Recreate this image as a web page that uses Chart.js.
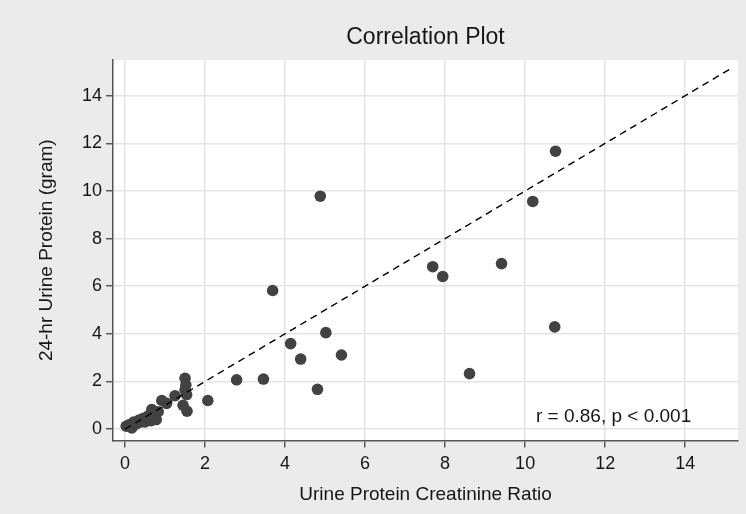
<!DOCTYPE html>
<html>
<head>
<meta charset="utf-8">
<script src="https://cdn.jsdelivr.net/npm/chart.js@4/dist/chart.umd.min.js"></script>
<style>
html,body{margin:0;padding:0;background:#ebebeb;}
canvas{display:block;}
</style>
</head>
<body>
<canvas id="c" width="746" height="514"></canvas>
<script>
// Data
const upcr = [4.88,10.19,10.76,3.69,7.69,7.94,9.41,5.02,4.14,4.39,5.41,2.79,3.46,4.81,8.61,10.74,2.07,
  1.50,1.52,1.50,1.54,1.25,1.45,1.55,1.04,0.92,0.83,0.67,0.78,0.58,0.46,0.35,0.22,0.10,0.17,0.03,0.28,0.50,0.65,0.40];
const urine24 = [9.78,9.56,11.67,5.82,6.82,6.41,6.95,4.05,3.59,2.94,3.11,2.07,2.10,1.67,2.33,4.29,1.20,
  2.13,1.85,1.64,1.45,1.40,1.00,0.75,1.08,1.20,0.73,0.82,0.40,0.55,0.45,0.38,0.30,0.18,0.05,0.12,0.22,0.30,0.35,0.30];
const refLine = [0, 15.2];
const xTicks = [0,2,4,6,8,10,12,14];
const yTicks = [0,2,4,6,8,10,12,14];
const titleText = "Correlation Plot";
const xTitle = "Urine Protein Creatinine Ratio";
const yTitle = "24-hr Urine Protein (gram)";
const annText = "r = 0.86, p < 0.001";
const annPos = [10.27, 0.31];

const FONT = "'Liberation Sans', Arial, Helvetica, sans-serif";

const points = upcr.map((v,i)=>({x:v, y:urine24[i]}));
const linePts = refLine.map(v=>({x:v, y:v}));

const textPlugin = {
  id: 'texts',
  beforeDraw(chart){
    const {ctx, chartArea:a} = chart;
    ctx.save();
    ctx.fillStyle = '#ffffff';
    ctx.fillRect(a.left, a.top, a.right-a.left, a.bottom-a.top);
    ctx.restore();
  },
  afterDraw(chart){
    const {ctx, chartArea:a, scales} = chart;
    ctx.save();
    ctx.fillStyle = '#161616';
    ctx.textAlign = 'center';
    ctx.textBaseline = 'middle';
    ctx.font = "23px " + FONT;
    ctx.fillText(titleText, (a.left+a.right)/2, 38);
    ctx.font = "19px " + FONT;
    ctx.fillText(xTitle, (a.left+a.right)/2, 495);
    ctx.save();
    ctx.translate(47, (a.top+a.bottom)/2);
    ctx.rotate(-Math.PI/2);
    ctx.fillText(yTitle, 0, 0);
    ctx.restore();
    ctx.textAlign = 'left';
    ctx.textBaseline = 'alphabetic';
    ctx.fillText(annText, scales.x.getPixelForValue(annPos[0]), scales.y.getPixelForValue(annPos[1]));
    ctx.restore();
  }
};

new Chart(document.getElementById('c'), {
  type: 'scatter',
  data: {
    datasets: [
      {
        type: 'line',
        data: linePts,
        borderColor: '#000000',
        borderWidth: 1.4,
        borderDash: [7,5],
        pointRadius: 0,
        fill: false,
        order: 0
      },
      {
        data: points,
        backgroundColor: '#424242',
        borderColor: '#424242',
        borderWidth: 0,
        pointRadius: 5.8,
        order: 1
      }
    ]
  },
  options: {
    responsive: false,
    animation: false,
    devicePixelRatio: 1,
    layout: {padding: {left: 0, right: 8, top: 60, bottom: 0}},
    plugins: {legend: {display: false}, tooltip: {enabled: false}, title: {display: false}},
    scales: {
      x: {
        type: 'linear',
        min: -0.3, max: 15.32,
        afterBuildTicks(s){ s.ticks = xTicks.map(v=>({value:v})); },
        afterFit(s){ s.height = 73.5; },
        ticks: {font: {size: 18, family: FONT}, color: '#161616', padding: 6, maxRotation: 0, includeBounds: false},
        grid: {color: '#e4e4e4', lineWidth: 1.5, tickColor: '#444', tickLength: 7, tickWidth: 1.3},
        border: {color: '#555', width: 1.5}
      },
      y: {
        type: 'linear',
        min: -0.48, max: 15.5,
        afterBuildTicks(s){ s.ticks = yTicks.map(v=>({value:v})); },
        afterFit(s){ s.width = 113; },
        ticks: {font: {size: 18, family: FONT}, color: '#161616', padding: 4, includeBounds: false},
        grid: {color: '#e4e4e4', lineWidth: 1.5, tickColor: '#444', tickLength: 7, tickWidth: 1.3},
        border: {color: '#555', width: 1.5}
      }
    }
  },
  plugins: [textPlugin]
});
</script>
</body>
</html>
